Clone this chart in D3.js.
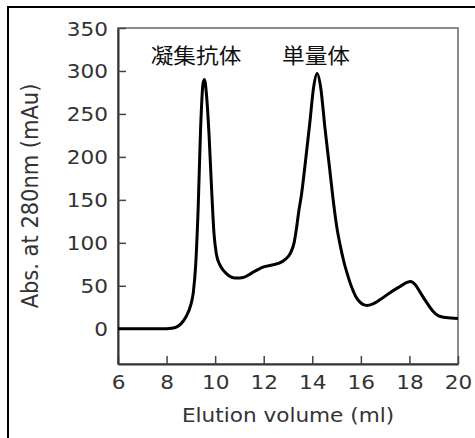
<!DOCTYPE html>
<html>
<head>
<meta charset="utf-8">
<script src="https://cdn.jsdelivr.net/npm/d3@7"></script>
<style>
  body { margin: 0; background: #fff; }
  svg { display: block; }
  text { font-family: "DejaVu Sans", Verdana, sans-serif; fill: #333; }
</style>
</head>
<body>
<script>
var w = 475, h = 438;

// chromatogram
var volume = [6, 7, 8, 8.2, 8.4, 8.6, 8.8, 9.0, 9.1, 9.2, 9.3, 9.4, 9.5, 9.56, 9.65, 9.75, 9.85, 9.95,
  10.05, 10.2, 10.4, 10.6, 10.8, 11.0, 11.2, 11.4, 11.6, 11.8, 12.0, 12.3, 12.6, 12.9, 13.1, 13.25,
  13.35, 13.45, 13.55, 13.7, 13.9, 14.05, 14.2, 14.35, 14.52, 14.7, 14.86, 15.0, 15.15, 15.3, 15.45,
  15.6, 15.8, 16.0, 16.25, 16.5, 16.8, 17.2, 17.6, 17.9, 18.05, 18.25, 18.45, 18.7, 18.95, 19.2, 19.5, 20];
var absorbance = [0, 0, 0, 0.5, 2, 6, 14, 28, 42, 75, 140, 232, 285, 290, 270, 225, 165, 112,
  87, 74, 66, 61, 59, 59, 60, 63, 66.5, 69.5, 72, 74, 76, 81, 88, 100,
  117, 138, 155, 190, 240, 280, 297, 280, 234, 190, 150, 120, 97, 78, 63,
  50, 37, 30, 27, 29, 34, 42, 49, 54, 55, 51, 42, 31, 21, 15, 13, 12];

var xTicks = [6, 8, 10, 12, 14, 16, 18, 20];
var yTicks = [0, 50, 100, 150, 200, 250, 300, 350];
var peakNames = ["凝集抗体", "単量体"];
var peakPos = [196, 316];

var pLeft = 118, pTop = 28, pRight = 458, pBottom = 364;
var sx = 1.08; // picture is a bit wider than tall

var svg = d3.select("body").append("svg")
  .attr("width", w)
  .attr("height", h);

// outer frame (cut off at right and bottom)
svg.append("path")
  .attr("d", "M8," + (h + 2) + "V7H" + (w + 2))
  .style("fill", "none")
  .style("stroke", "#000")
  .style("stroke-width", 2);

var x = d3.scaleLinear().domain([6, 20]).range([pLeft, pRight]);
var y = d3.scaleLinear().domain([-41, 350]).range([pBottom, pTop]);

// plot box
svg.append("rect")
  .attr("x", pLeft).attr("y", pTop)
  .attr("width", pRight - pLeft).attr("height", pBottom - pTop)
  .style("fill", "none")
  .style("stroke", "#666")
  .style("stroke-width", 1.5);

var xAxis = svg.append("g")
  .attr("transform", "translate(0," + pBottom + ")")
  .call(d3.axisBottom(x).tickValues(xTicks).tickSizeInner(-8).tickSizeOuter(0).tickFormat(d3.format("d")));

var yAxis = svg.append("g")
  .attr("transform", "translate(" + pLeft + ",0)")
  .call(d3.axisLeft(y).tickValues(yTicks).tickSizeInner(-8).tickSizeOuter(0).tickFormat(d3.format("d")));

[xAxis, yAxis].forEach(function(a) {
  a.select(".domain").style("stroke", "#333").style("stroke-width", 2);
  a.selectAll(".tick line").style("stroke", "#444").style("stroke-width", 1.5);
  a.selectAll(".tick text")
    .style("font-size", "20px")
    .style("fill", "#333")
    .attr("font-family", null);
});
xAxis.selectAll(".tick text")
  .attr("y", 0).attr("dy", null)
  .attr("transform", "translate(0,25) scale(" + sx + ",1)");
yAxis.selectAll(".tick text")
  .attr("x", 0).attr("dy", "0.35em")
  .attr("transform", "translate(-10,0) scale(" + sx + ",1)");

// trace
var line = d3.line()
  .x(function(d, i) { return x(volume[i]); })
  .y(function(d) { return y(d); })
  .curve(d3.curveMonotoneX);

svg.append("path")
  .datum(absorbance)
  .attr("d", line)
  .style("fill", "none")
  .style("stroke", "#000")
  .style("stroke-width", 3)
  .style("stroke-linejoin", "round");

// peak names
svg.selectAll(".peak")
  .data(peakNames)
  .enter()
  .append("text")
  .attr("class", "peak")
  .attr("transform", function(d, i) {
    return "translate(" + peakPos[i] + ",63) scale(" + sx + ",1)";
  })
  .attr("text-anchor", "middle")
  .style("font-family", "'Noto Sans CJK JP', sans-serif")
  .style("font-size", "21px")
  .style("fill", "#111")
  .text(function(d) { return d; });

// axis titles
svg.append("text")
  .attr("transform", "translate(288,422) scale(" + sx + ",1)")
  .attr("text-anchor", "middle")
  .style("font-size", "20px")
  .text("Elution volume (ml)");

svg.append("text")
  .attr("transform", "translate(38,196) rotate(-90) scale(1," + sx + ")")
  .attr("text-anchor", "middle")
  .style("font-size", "21px")
  .text("Abs. at 280nm (mAu)");
</script>
</body>
</html>
